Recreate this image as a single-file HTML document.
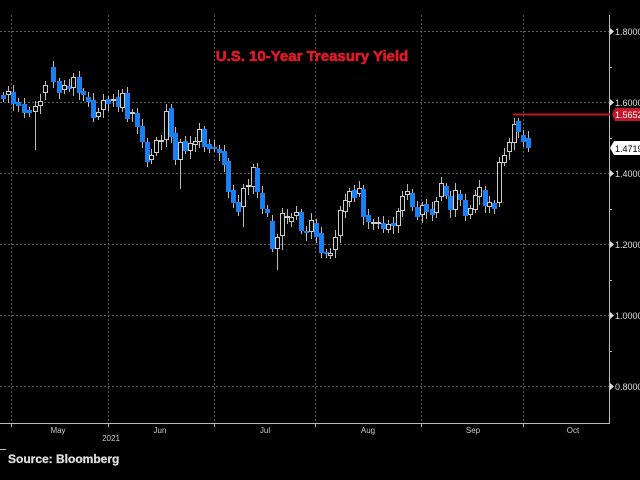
<!DOCTYPE html>
<html><head><meta charset="utf-8"><style>
html,body{margin:0;padding:0;background:#000;width:640px;height:480px;overflow:hidden}
svg{display:block}
text{font-family:"Liberation Sans",sans-serif}
</style></head><body>
<svg id="s" width="640" height="480" xmlns="http://www.w3.org/2000/svg">
<rect width="640" height="480" fill="#000"/>
<g stroke="#5a5a5a" stroke-width="1" stroke-dasharray="2,2">
<line x1="0" y1="31.5" x2="609" y2="31.5"/>
<line x1="0" y1="102.5" x2="609" y2="102.5"/>
<line x1="0" y1="173.5" x2="609" y2="173.5"/>
<line x1="0" y1="244.5" x2="609" y2="244.5"/>
<line x1="0" y1="315.5" x2="609" y2="315.5"/>
<line x1="0" y1="386.5" x2="609" y2="386.5"/>
<line x1="11.5" y1="15" x2="11.5" y2="423"/>
<line x1="108.5" y1="15" x2="108.5" y2="423"/>
<line x1="214.5" y1="15" x2="214.5" y2="423"/>
<line x1="315.5" y1="15" x2="315.5" y2="423"/>
<line x1="421.5" y1="15" x2="421.5" y2="423"/>
<line x1="523.5" y1="15" x2="523.5" y2="423"/>
</g>
<g stroke="#bbb" stroke-width="1">
<line x1="0" y1="423.5" x2="610" y2="423.5"/>
<line x1="609.5" y1="15" x2="609.5" y2="424"/>
<line x1="11.5" y1="423" x2="11.5" y2="427"/>
<line x1="108.5" y1="423" x2="108.5" y2="427"/>
<line x1="214.5" y1="423" x2="214.5" y2="427"/>
<line x1="315.5" y1="423" x2="315.5" y2="427"/>
<line x1="421.5" y1="423" x2="421.5" y2="427"/>
<line x1="523.5" y1="423" x2="523.5" y2="427"/>
<line x1="609" y1="67.5" x2="612" y2="67.5"/>
<line x1="609" y1="138.5" x2="612" y2="138.5"/>
<line x1="609" y1="209.5" x2="612" y2="209.5"/>
<line x1="609" y1="280.5" x2="612" y2="280.5"/>
<line x1="609" y1="351.5" x2="612" y2="351.5"/>
<line x1="0" y1="449.5" x2="6" y2="449.5"/>
</g>
<g id="c"></g>
<line x1="513" y1="114.5" x2="610" y2="114.5" stroke="#c0172c" stroke-width="2"/>
<g fill="#ddd" font-size="9">
<path d="M610,28 L614,31.5 L610,35Z"/><text x="615" y="35">1.8000</text>
<path d="M610,99 L614,102.5 L610,106Z"/><text x="615" y="106">1.6000</text>
<path d="M610,170 L614,173.5 L610,177Z"/><text x="615" y="177">1.4000</text>
<path d="M610,241 L614,244.5 L610,248Z"/><text x="615" y="248">1.2000</text>
<path d="M610,312 L614,315.5 L610,319Z"/><text x="615" y="319">1.0000</text>
<path d="M610,383 L614,386.5 L610,390Z"/><text x="615" y="390">0.8000</text>
</g>
<path d="M612,114.5 L615,108 L640,108 L640,121 L615,121Z" fill="#c0172c"/>
<text x="615" y="118" font-size="9" fill="#fff">1.5652</text>
<path d="M610,148 L614,141 L640,141 L640,155 L614,155Z" fill="#fff"/>
<text x="615" y="152" font-size="9" fill="#000">1.4719</text>
<text x="312" y="61" font-size="15" font-weight="700" fill="#e0192a" stroke="#e0192a" stroke-width="0.6" text-anchor="middle">U.S. 10-Year Treasury Yield</text>
<g fill="#ccc" font-size="8" text-anchor="middle">
<text x="58" y="433">May</text><text x="160" y="433">Jun</text><text x="265" y="433">Jul</text>
<text x="368" y="433">Aug</text><text x="473" y="433">Sep</text><text x="573" y="433">Oct</text>
<text x="111" y="441">2021</text>
</g>
<text x="8" y="463" font-size="12" font-weight="700" fill="#ddd" stroke="#ddd" stroke-width="0.3">Source: Bloomberg</text>
</svg>
<script>
var d=[[3,95,99,1],[8,91,95,0],[13,92,104,1],[18,102,106,1],[24,104,113,1],[29,110,113,1],[35,106,112,0],[40,101,106,0],[45,85,93,0],[53,67,82,1],[59,81,93,1],[64,85,90,0],[69,86,89,1],[73,77,88,0],[79,77,93,1],[83,91,95,1],[88,97,102,1],[93,100,118,1],[98,112,117,0],[103,100,110,0],[108,99,104,1],[113,99,101,0],[118,97,107,1],[122,93,108,0],[127,93,119,1],[132,112,114,0],[137,113,127,1],[142,126,142,1],[147,142,162,1],[151,155,160,0],[156,140,153,0],[161,140,142,0],[166,111,140,0],[171,108,137,1],[175,133,160,1],[180,142,160,0],[185,141,151,1],[190,143,151,0],[195,141,145,0],[199,129,142,0],[204,129,147,1],[209,144,149,1],[214,147,149,1],[219,149,153,1],[224,151,165,1],[228,161,192,1],[233,190,203,1],[238,202,212,1],[243,188,207,0],[248,185,187,0],[253,167,187,0],[257,168,192,1],[262,193,209,1],[267,209,213,1],[272,221,249,1],[277,237,249,0],[282,213,236,0],[287,216,218,0],[291,217,222,0],[296,212,216,0],[301,212,231,1],[306,231,233,1],[311,220,232,0],[316,223,237,1],[321,233,253,1],[326,252,254,1],[330,253,256,0],[335,237,250,0],[340,210,236,0],[345,200,212,0],[349,191,202,0],[354,190,198,1],[359,188,194,0],[363,189,217,1],[368,215,222,1],[373,222,224,0],[378,222,224,0],[383,223,229,1],[388,224,230,0],[393,223,226,1],[398,211,226,0],[402,196,211,0],[407,191,195,0],[412,193,207,1],[417,207,217,1],[422,205,215,0],[426,204,212,1],[432,209,215,1],[436,201,213,0],[441,183,197,0],[446,186,196,1],[450,196,210,1],[455,190,210,0],[460,194,200,1],[465,200,216,1],[470,208,215,0],[475,195,210,0],[479,187,197,0],[485,190,206,1],[489,202,207,0],[494,203,209,1],[499,162,203,0],[504,155,163,0],[509,142,152,0],[514,124,143,0],[518,121,132,1],[523,135,142,1],[528,138,148,1]];
var long={35:150,180:189,243:227,277:270,105:108,59:99,282:250};
var g=document.getElementById('c'),h='';
d.forEach(function(c,i){var x=c[0],t=c[1],b=c[2],blue=c[3];
var wt=t-3-(i*7%5),wb=b+3+(i*11%6);if(long[x])wb=Math.max(wb,long[x]);
h+='<line x1="'+(x+0.5)+'" y1="'+wt+'" x2="'+(x+0.5)+'" y2="'+wb+'" stroke="#bbb" stroke-width="1"/>';
if(blue)h+='<rect x="'+(x-2)+'" y="'+t+'" width="5" height="'+Math.max(2,b-t)+'" fill="#1a7ff0"/>';
else h+='<rect x="'+(x-1.5)+'" y="'+(t+0.5)+'" width="4" height="'+Math.max(1,b-t-1)+'" fill="#000" stroke="#ccc" stroke-width="1"/>';
});
g.innerHTML=h;
</script>
</body></html>
